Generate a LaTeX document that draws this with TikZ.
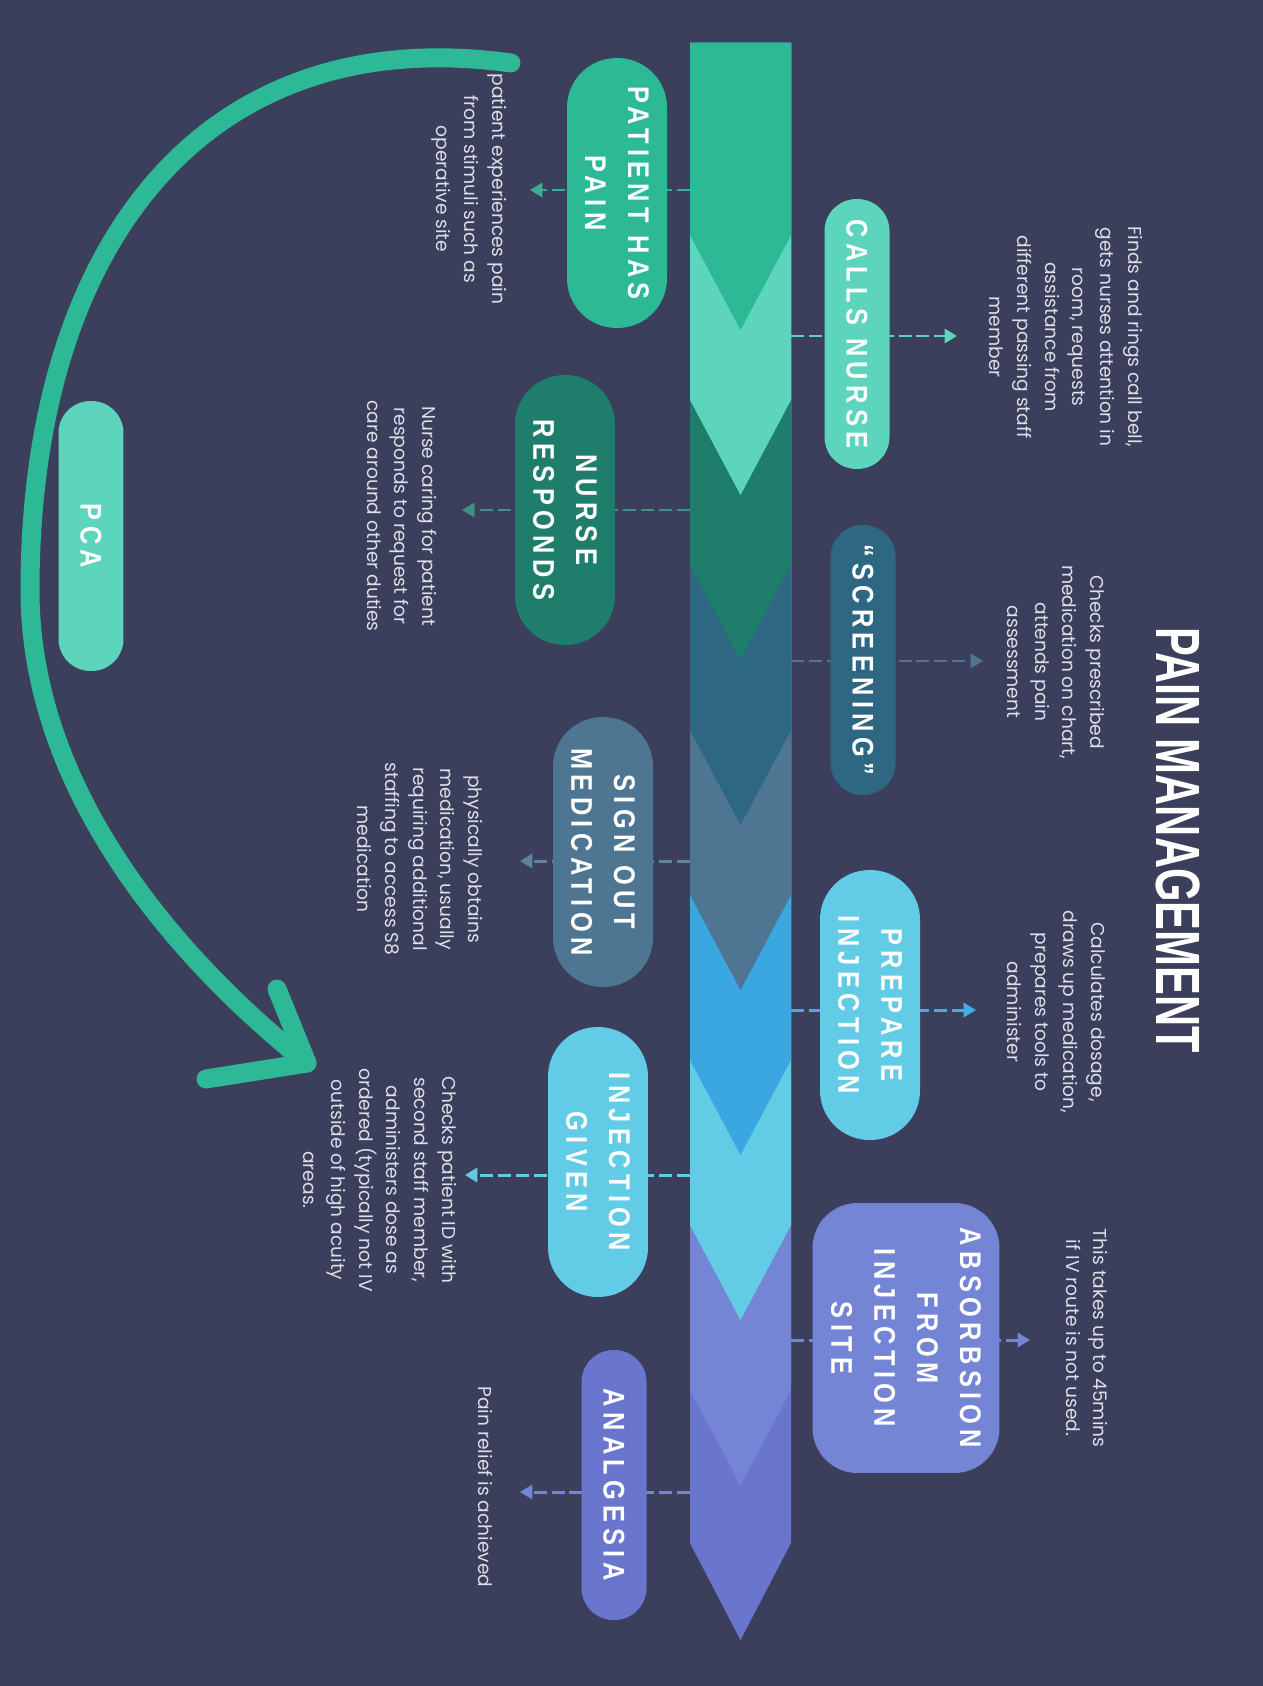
\documentclass[tikz,border=0pt]{standalone}
\usepackage{fontspec}
\setmainfont{Poppins}
\newfontfamily\pillfont{Liberation Sans}[LetterSpace=18,FakeStretch=0.85]
\newfontfamily\titlefont{Liberation Sans}[FakeStretch=0.69]
\usetikzlibrary{arrows.meta}

\definecolor{bg}{HTML}{3B3F5C}
\definecolor{stepa}{HTML}{2DB896}
\definecolor{stepb}{HTML}{5DD4BC}
\definecolor{stepc}{HTML}{1F7E6B}
\definecolor{stepd}{HTML}{2D6782}
\definecolor{stepe}{HTML}{4E7592}
\definecolor{stepf}{HTML}{3AA7E1}
\definecolor{stepg}{HTML}{62CCE6}
\definecolor{steph}{HTML}{7585D6}
\definecolor{stepi}{HTML}{6A76CE}
\definecolor{notecol}{HTML}{DCDEE8}

\begin{document}
\begin{tikzpicture}[x=0.02cm,y=-0.02cm,
    pill/.style={rectangle,rotate=-90,inner sep=0pt,text=white,align=center,
      minimum width=5.4cm,minimum height=2cm,rounded corners=0.99cm,
      font=\pillfont\bfseries\fontsize{17}{24.4}\selectfont},
    thinpill/.style={pill,minimum height=1.3cm,rounded corners=0.64cm},
    note/.style={rotate=-90,align=center,text=notecol,inner sep=0pt,
      font=\fontsize{10.6}{15.9}\selectfont},
    link/.style={line width=1.7pt,dash pattern=on 7.4pt off 2.8pt,
      -{Triangle[length=7pt,width=8pt]}},
    pcaline/.style={draw=stepa,line width=0.38cm,line cap=round,line join=round}]

    % background and page size
    \fill[bg] (0,0) rectangle (1263,1686);
    \useasboundingbox (0,0) rectangle (1263,1686);

    % the timeline bar, last chevron first
    \fill[stepi] (690,43) -- (791,43) -- (791,1543) -- (740.5,1640) -- (690,1543) -- cycle;
    \fill[steph] (690,43) -- (791,43) -- (791,1390) -- (740.5,1485) -- (690,1390) -- cycle;
    \fill[stepg] (690,43) -- (791,43) -- (791,1225) -- (740.5,1320) -- (690,1225) -- cycle;
    \fill[stepf] (690,43) -- (791,43) -- (791,1060) -- (740.5,1155) -- (690,1060) -- cycle;
    \fill[stepe] (690,43) -- (791,43) -- (791,895) -- (740.5,990) -- (690,895) -- cycle;
    \fill[stepd] (690,43) -- (791,43) -- (791,730) -- (740.5,825) -- (690,730) -- cycle;
    \fill[stepc] (690,43) -- (791,43) -- (791,565) -- (740.5,660) -- (690,565) -- cycle;
    \fill[stepb] (690,43) -- (791,43) -- (791,400) -- (740.5,495) -- (690,400) -- cycle;
    \fill[stepa] (690,43) -- (791,43) -- (791,235) -- (740.5,330) -- (690,235) -- cycle;

    % connector ends
    \coordinate (bar1) at (690,190);  \coordinate (end1) at (530,190);
    \coordinate (bar2) at (791,336);  \coordinate (end2) at (957,336);
    \coordinate (bar3) at (690,510);  \coordinate (end3) at (462,510);
    \coordinate (bar4) at (791,661);  \coordinate (end4) at (983,661);
    \coordinate (bar5) at (690,861);  \coordinate (end5) at (520,861);
    \coordinate (bar6) at (791,1010); \coordinate (end6) at (976,1010);
    \coordinate (bar7) at (690,1175); \coordinate (end7) at (465,1175);
    \coordinate (bar8) at (791,1340); \coordinate (end8) at (1030,1340);
    \coordinate (bar9) at (690,1492); \coordinate (end9) at (520,1492);

    \draw[link,stepa!80!gray] (bar1) -- (end1);
    \draw[link,stepb] (bar2) -- (end2);
    \draw[link,stepc!85!white] (bar3) -- (end3);
    \draw[link,stepe] (bar4) -- (end4);
    \draw[link,stepe!90!white] (bar5) -- (end5);
    \draw[link,stepf!80!stepg] (bar6) -- (end6);
    \draw[link,stepg] (bar7) -- (end7);
    \draw[link,steph] (bar8) -- (end8);
    \draw[link,steph] (bar9) -- (end9);

    % steps
    \node[pill,fill=stepa] (pain) at (617,193) {PATIENT HAS\\PAIN};
    \node[thinpill,fill=stepb] (calls) at (857,334) {CALLS NURSE};
    \node[pill,fill=stepc] (responds) at (565,510) {NURSE\\RESPONDS};
    \node[thinpill,fill=stepd] (screening) at (863,660) {“SCREENING”};
    \node[pill,fill=stepe] (signout) at (603,852) {SIGN OUT\\MEDICATION};
    \node[pill,fill=stepg] (prepare) at (870,1005) {PREPARE\\INJECTION};
    \node[pill,fill=stepg] (given) at (598,1162) {INJECTION\\GIVEN};
    \node[pill,fill=steph,minimum height=3.74cm,rounded corners=0.9cm] (absorb) at (906,1338)
        {ABSORBSION\\FROM\\INJECTION\\SITE};
    \node[thinpill,fill=stepi] (analgesia) at (614,1485) {ANALGESIA};
    \node[thinpill,fill=stepb] (pca) at (91,536) {PCA};

    % notes
    \node[note] (painnote) at (469,189) {patient experiences pain\\from stimuli such as\\operative site};
    \node[note] (callsnote) at (1066,337) {Finds and rings call bell,\\gets nurses attention in\\room, requests\\assistance from\\different passing staff\\member};
    \node[note] (respondsnote) at (402,516) {Nurse caring for patient\\responds to request for\\care around other duties};
    \node[note] (screeningnote) at (1056,662) {Checks prescribed\\medication on chart,\\attends pain\\assessment};
    \node[note] (signoutnote) at (420,859) {physically obtains\\medication, usually\\requiring additional\\staffing to access S8\\medication};
    \node[note] (preparenote) at (1056,1012) {Calculates dosage,\\draws up medication,\\prepares tools to\\administer};
    \node[note] (givennote) at (380,1180) {Checks patient ID with\\second staff member,\\administers dose as\\ordered (typically not IV\\outside of high acuity\\areas.};
    \node[note] (absorbnote) at (1087,1338) {This takes up to 45mins\\if IV route is not used.};
    \node[note] (analgesianote) at (486,1487) {Pain relief is achieved};

    \node[rotate=-90,text=white,inner sep=0pt,font=\titlefont\bfseries\fontsize{35.6}{40}\selectfont]
        (title) at (1178,840) {PAIN MANAGEMENT};

    % PCA loop back to the injection
    \coordinate (pcastart) at (511,63);
    \coordinate (pcatip) at (307,1063);
    \draw[pcaline] (pcastart) .. controls (200,20) and (30,250) .. (30,590)
        .. controls (30,800) and (190,970) .. (pcatip);
    \draw[pcaline] (277,989) -- (pcatip) -- (206,1079);
\end{tikzpicture}
\end{document}
